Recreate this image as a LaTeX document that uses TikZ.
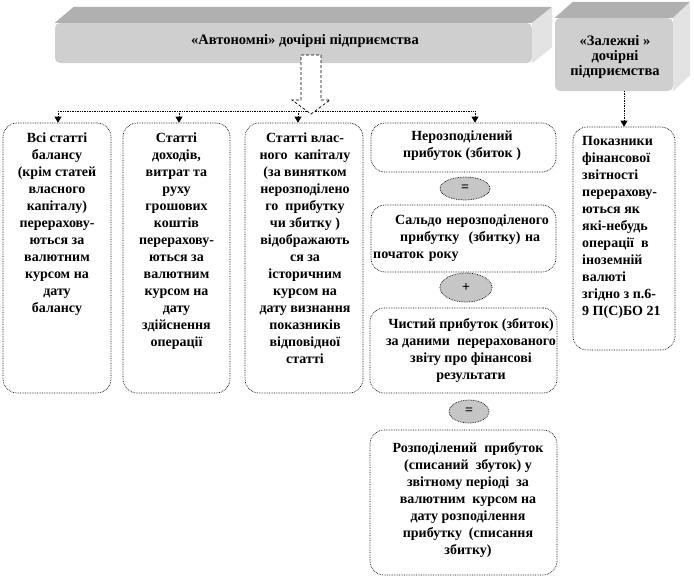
\documentclass[tikz,border=0pt]{standalone}
\usepackage{fontspec}
\setmainfont{Liberation Serif}
\usetikzlibrary{shapes.geometric,arrows.meta,calc}
\begin{document}
\begin{tikzpicture}[x=1pt,y=-1pt,
  box/.style={draw, densely dotted, line width=0.7pt, rounded corners=14pt, fill=white, inner sep=0pt},
  txt/.style={font=\bfseries\fontsize{14}{17}\selectfont, align=center, inner sep=0pt},
  htxt/.style={font=\bfseries\fontsize{14.5}{15}\selectfont, align=center, inner sep=0pt},
  ell/.style={ellipse, draw, densely dotted, line width=0.7pt, fill=gray!45, inner sep=0pt, font=\bfseries\fontsize{14}{14}\selectfont},
  conn/.style={densely dotted, line width=0.7pt},
  arr/.style={conn, -{Triangle[length=6pt,width=7pt]}},
  front/.style={fill=gray!38, draw=none, rounded corners=5pt, inner sep=0pt},
  topface/.style={fill=gray!62},
  sideface/.style={fill=gray!22},
  hollow/.style={densely dashed, line width=0.7pt, fill=white},
]
\useasboundingbox (0,0) rectangle (694,579);

% ---------- main header (3D block)
\node[front, minimum width=477, minimum height=40] (hdr) at (293.5,43) {};
\fill[topface] (hdr.north west) -- ++(19,-16) -- ($(hdr.north east)+(20,-16)$) -- (hdr.north east) -- cycle;
\fill[sideface] (hdr.north east) -- ++(20,-16) -- ($(hdr.south east)+(20,-16)$) -- (hdr.south east) -- cycle;
\node[htxt] (hdrt) at (305,41) {«Автономні» дочірні підприємства};

% ---------- dependent header (3D block)
\node[front, minimum width=118, minimum height=73] (hdz) at (614,54.5) {};
\fill[topface] (hdz.north west) -- ++(18,-16) -- ($(hdz.north east)+(17,-16)$) -- (hdz.north east) -- cycle;
\fill[sideface] (hdz.north east) -- ++(17,-16) -- ($(hdz.south east)+(17,-16)$) -- (hdz.south east) -- cycle;
\node[htxt] (hdzt) at (615,57) {«Залежні »\\дочірні\\підприємства};

% ---------- boxes
\node[box, minimum width=108, minimum height=270] (b1) at (57,258) {};
\node[box, minimum width=107, minimum height=270] (b2) at (176.5,258) {};
\node[box, minimum width=118, minimum height=270] (b3) at (304,258) {};
\node[box, minimum width=185, minimum height=49] (b4) at (463.5,147.5) {};
\node[box, minimum width=185, minimum height=67] (b5) at (463.5,238.5) {};
\node[box, minimum width=187, minimum height=85] (b6) at (463.5,350.5) {};
\node[box, minimum width=187, minimum height=145] (b7) at (463.5,502.5) {};
\node[box, minimum width=102, minimum height=223] (b8) at (624,238.5) {};

\node[ell, minimum width=50, minimum height=23] (e1) at (465,188.5) {=};
\node[ell, minimum width=52, minimum height=29] (e2) at (466,287.5) {+};
\node[ell, minimum width=40, minimum height=23] (e3) at (469,411.5) {=};

% ---------- texts
\node[txt, anchor=north] (t1) at (57,133) {Всі статті\\балансу\\(крім статей\\власного\\капіталу)\\перерахову-\\ються за\\валютним\\курсом на\\дату\\балансу};
\node[txt, anchor=north] (t2) at (176.5,133) {Статті\\доходів,\\витрат та\\руху\\грошових\\коштів\\перерахову-\\ються за\\валютним\\курсом на\\дату\\здійснення\\операції};
\node[txt, anchor=north] (t3) at (305,133) {Статті влас-\\ного\ \ капіталу\\(за винятком\\нерозподілено\\го\ \ прибутку\\чи збитку )\\відображають\\ся за\\історичним\\курсом на\\дату визнання\\показників\\відповідної\\статті};
\node[txt] (t4) at (462,146) {Нерозподілений\\прибуток (збиток )};
\node[txt, anchor=west, text width=200, align=left] (t5) at (373,238.5) {\hspace*{22pt}Сальдо нерозподіленого\\\hspace*{27pt}прибутку\ \ (збитку) на\\початок року};
\node[txt] (t6) at (471,350) {Чистий прибуток (збиток)\\за даними\ \ перерахованого\\звіту про фінансові\\результати};
\node[txt] (t7) at (468,499.5) {Розподілений\ \ прибуток\\(списаний\ \ збуток) у\\звітному періоді\ \ за\\валютним\ \ курсом на\\дату розподілення\\прибутку\ \ (списання\\збитку)};
\node[txt, anchor=north west, align=left] (t8) at (582,136) {Показники\\фінансової\\звітності\\перерахову-\\ються як\\які-небудь\\операції\ \ в\\іноземній\\валюті\\згідно з п.6-\\9 П(С)БО 21};

% ---------- connectors
\coordinate (bus1) at (58,111);
\coordinate (bus2) at (179,111);
\coordinate (bus3) at (298,111);
\coordinate (bus4) at (475,111);
\draw[conn] (bus1) -- (bus4);
\draw[arr] (bus1) -- (bus1 |- b1.north);
\draw[arr] (bus2) -- (bus2 |- b2.north);
\draw[arr] (bus3) -- (bus3 |- b3.north);
\draw[arr] (bus4) -- (bus4 |- b4.north);

\coordinate (zt) at (624,91);
\draw[arr] (zt) -- (zt |- b8.north);

% hollow block arrow from main header
\coordinate (ha) at (311,55);
\draw[hollow] ($(ha)+(-10,0)$) -- ($(ha)+(10,0)$) -- ($(ha)+(10,45)$) -- ($(ha)+(19,45)$) -- ($(ha)+(0,59)$) -- ($(ha)+(-19,45)$) -- ($(ha)+(-10,45)$) -- cycle;
\end{tikzpicture}
\end{document}
